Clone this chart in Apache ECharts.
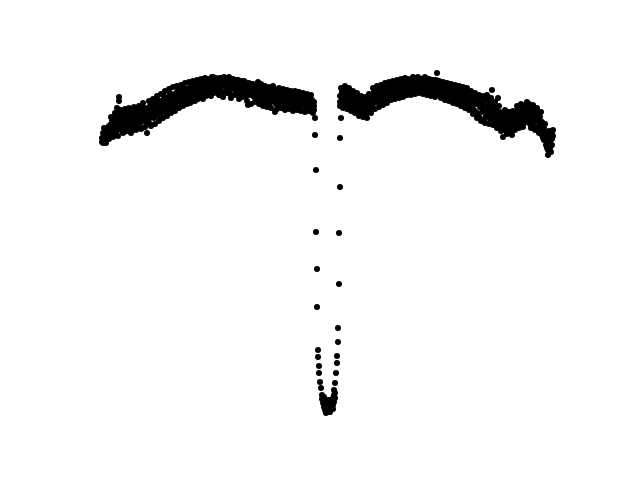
<!DOCTYPE html>
<html>
<head>
<meta charset="utf-8">
<script src="https://cdn.jsdelivr.net/npm/echarts@6/dist/echarts.min.js"></script>
<style>html,body{margin:0;padding:0;background:#fff;}#c{width:640px;height:480px;}</style>
</head>
<body>
<div id="c"></div>
<script>
// Each row: [time, depth values at that time...] (depth grows downward)
const leftBand = [
[102,138,142],[103,133,140,143],[104,136,141],[105,130,138],[106,134,140],[107,128,137],[108,132,139,135],
[109,126,134],[110,130,137],[111,124,132],[112,128,135,120],[113,122,131],[114,126,134],[115,118,129,113],
[116,124,132],[117,120,127,108],[118,125,130],[119,97,101,116,123],[120,121,128,112],[121,118,126],
[122,123,130,114],[123,119,125],[124,116,127,132],[125,121,117],[126,124,129,113],[127,118,122],[128,115,126],
[129,120,131],[130,117,123,111],[131,121,127],[132,114,119],[133,122,125,130],[134,116,120],[135,112,118,124],
[136,119,126],[137,114,121],[138,117,110,127],[139,120,115],[140,113,118,123],[142,111,116,121,128],
[144,114,119,108],[146,110,117,122],[147,133,113],[148,108,115,120],[150,106,112,118,124],[152,109,114,104],
[154,107,112,118],[156,103,110,115],[158,106,111,100],[160,104,109,114,119],[162,101,107,112],[164,99,105,110,96],
[166,102,108,113],[168,98,104,109],[170,96,101,106,93],[172,99,104,110],[174,95,100,105],[176,93,98,103,108],
[178,96,101,89],[180,92,97,102],[182,90,95,100,105],[184,93,98,88],[186,91,96,101],[188,89,94,99],
[190,87,92,97,103],[192,90,95,85],[194,88,93,98],[196,85,90,95],[198,83,88,93,99],[200,86,91,81],
[202,84,89,94],[204,82,87,92],[206,80,85,90,96],[208,83,88,79],[210,81,86,91],[212,77,84,89],[214,79,85,93],
[216,82,87,78],[218,80,84,90],[220,78,83,88],[222,81,86,92],[224,79,84,77],[226,82,87,91],[228,80,85,78],
[230,83,88,94],[232,79,84,89],[234,81,86,80],[236,84,89,93],[238,82,87,80],[240,85,90,95],[242,83,88,92],
[244,86,91,81],[246,84,89,96],[248,87,92,105],[250,85,90,95],[252,88,93,84],[254,86,91,97],[256,89,94,99],
[258,82,92,97],[260,87,95,100],[262,90,96,86],[264,88,93,101],[266,91,97,102],[268,89,95,92],[270,93,98,103],
[272,90,96,101],[274,94,99,89],[275,112],[276,92,97,104],[278,95,100,105],[280,93,98,102],[282,96,101,91],
[284,94,99,106],[286,97,102,93],[288,95,100,105],[290,98,103,94],[292,96,101,107],[294,99,104,95],
[296,97,102,106],[298,100,94,104],[300,98,103,108],[302,96,101,105],[304,99,104,95],[306,97,102,108],
[308,100,105,98],[310,102,106,97],[312,104,100,108],[314,106,102,110],[315,118]
];
// scattered points along the edges of the left band
const leftEdge = [
[104,128],[106,143],[109,139],[111,117],[113,137],[116,114],[118,136],[121,110],[123,133],[125,109],[127,131],
[129,108],[131,133],[134,107],[136,130],[139,106],[141,129],[143,103],[145,127],[149,101],[151,126],[153,99],
[155,124],[157,96],[159,121],[161,94],[163,118],[165,91],[167,116],[169,89],[171,113],[173,87],[175,111],
[177,86],[179,108],[181,85],[183,106],[185,83],[187,104],[189,82],[191,102],[193,81],[195,101],[197,80],
[199,97],[201,79],[203,99],[205,78],[207,94],[209,80],[211,96],[213,77],[215,92],[217,79],[219,95],[221,78],
[223,97],[225,80],[227,93],[229,77],[231,98],[233,79],[235,95],[237,80],[239,99],[241,81],[243,97],[245,82],
[247,101],[249,83],[251,104],[253,84],[255,102],[257,85],[259,104],[261,84],[263,106],[265,86],[267,107],
[269,87],[271,108],[273,86],[277,109],[279,88],[281,108],[283,89],[285,110],[287,90],[289,109],[291,91],
[293,111],[295,91],[297,110],[299,92],[301,111],[303,93],[305,112],[307,94],[309,111],[311,95],[313,113]
];
const dipPoints = [
[315,135],[316,170],[316,232],[317,269],[317,307],[318,350],[318,357],[319,366],[319,373],[320,382],[321,388],
[322,395],[323,398],[324,401],[325,404],[324,407],[326,409],[327,411],[328,412],[329,410],[330,407],[331,404],
[332,401],[333,398],[334,395],[326,402],[328,400],[330,400],[327,405],[329,404],[331,409],[325,410],[332,406],[328,408],
[323,403],[334,402],[335,398],[333,405],[322,399],[326,413],[330,412],[333,409],[324,397],[335,393],
[334,390],[335,383],[336,373],[337,363],[337,356],[338,342],[338,328],[339,284],[339,233],[340,187],[340,138],[341,118]
];
const rightBand = [
[340,96,102,106],[342,92,99,104],[344,94,100,89],[346,91,97,103],[348,95,101,106],[350,93,98,104],
[352,96,102,107],[354,99,104,94],[356,97,103,108],[358,100,106,111],[360,102,108,113],[362,104,109,99],
[364,101,107,112],[366,103,109,115],[368,99,105,110],[370,97,102,108],[372,95,100,105],[374,92,98,103],
[376,94,99,89],[378,91,96,102],[380,93,98,88],[382,90,95,101],[384,92,97,87],[386,89,94,99],[388,87,92,97],
[390,89,94,84],[392,86,91,96],[394,88,93,83],[396,85,90,95],[398,83,88,93],[400,86,91,81],[402,84,89,94],
[404,82,87,92],[406,80,85,90],[408,83,88,79],[410,81,86,91],[412,79,84,89],[414,82,87,78],[416,80,85,90],
[418,77,83,88],[420,81,86,79],[422,79,84,89],[424,82,87,78],[426,80,85,91],[428,83,88,79],[430,81,86,92],
[432,84,89,80],[434,82,87,93],[436,85,90,80],[437,73],[438,83,88,94],[440,86,91,82],[442,84,89,95],
[444,87,92,83],[446,85,90,96],[448,88,93,84],[450,86,91,97],[452,89,94,85],[454,87,92,99],[456,90,95,86],
[458,88,94,100],[460,91,96,87],[462,93,98,102],[464,90,96,101],[466,94,99,104],[468,92,98,103],
[470,95,101,106],[472,97,103,108],[474,94,100,110],[476,98,104,112],[478,96,103,115],[480,100,107,118],
[482,98,105,112],[484,102,110,120],[486,100,108,116],[488,97,106,113],[490,103,111,119],[492,90,108,115],
[494,105,112,120],[496,110,117,123],[498,98,113,120],[500,112,118,125],[502,115,121,128],[503,137],
[504,117,123,130],[506,114,120,127],[508,118,124,131],[510,116,122,128],[512,119,125,135],[514,115,121,127],
[516,112,118,124],[518,109,115,122],[520,111,117,124],[522,108,114,120],[524,110,116,123],[526,107,113,119],
[527,102],[528,109,115,122],[530,111,117,124],[532,108,114,121],[534,112,118,126],[536,115,121,128],
[538,113,120,127],[540,117,124,131],[542,122,129,135],[544,128,134,140],[546,133,139,145],
[548,138,144,150,155],[550,136,142,148],[552,133,139,145],[553,130]
];
// scattered points along the edges of the right band
const rightEdge = [
[341,88],[343,108],[345,86],[347,109],[349,88],[351,111],[353,91],[355,113],[357,93],[359,116],[361,96],
[363,117],[365,97],[367,118],[369,94],[371,113],[373,88],[375,109],[377,86],[379,107],[381,85],[383,105],
[385,83],[387,103],[389,82],[391,100],[393,81],[395,99],[397,80],[399,98],[401,79],[403,97],[405,78],[407,95],
[409,80],[411,95],[413,77],[415,94],[417,78],[419,93],[421,79],[423,94],[425,77],[427,95],[429,79],[431,96],
[433,80],[435,97],[439,81],[441,98],[443,82],[445,100],[447,83],[449,101],[451,84],[453,103],[455,85],[457,104],
[459,86],[461,106],[463,87],[465,108],[467,88],[469,110],[471,91],[473,114],[475,93],[477,118],[479,95],
[481,121],[483,96],[485,123],[487,95],[489,124],[491,98],[493,125],[495,102],[497,128],[499,106],[501,131],
[505,110],[507,134],[509,112],[511,132],[513,111],[515,130],[517,106],[519,128],[521,104],[523,127],[525,105],
[529,104],[531,128],[533,105],[535,130],[537,108],[539,133],[541,112],[543,138],[545,124],[547,148],[549,131],
[551,152],[553,136]
];

function expand(rows) {
  const out = [];
  rows.forEach(r => { for (let i = 1; i < r.length; i++) out.push([r[0], r[i]]); });
  return out;
}

const chart = echarts.init(document.getElementById('c'), null, {renderer: 'canvas'});
const style = {color: '#000000', opacity: 1};
const mk = d => ({type: 'scatter', data: d, symbolSize: 6, itemStyle: style, emphasis: {disabled: true}});
chart.setOption({
  animation: false,
  backgroundColor: '#ffffff',
  grid: {left: 0, right: 0, top: 0, bottom: 0},
  xAxis: {type: 'value', min: 0, max: 640, show: false},
  yAxis: {type: 'value', min: 0, max: 480, inverse: true, show: false},
  series: [
    mk(expand(leftBand)),
    mk(leftEdge),
    mk(dipPoints),
    mk(expand(rightBand)),
    mk(rightEdge)
  ]
});
</script>
</body>
</html>
